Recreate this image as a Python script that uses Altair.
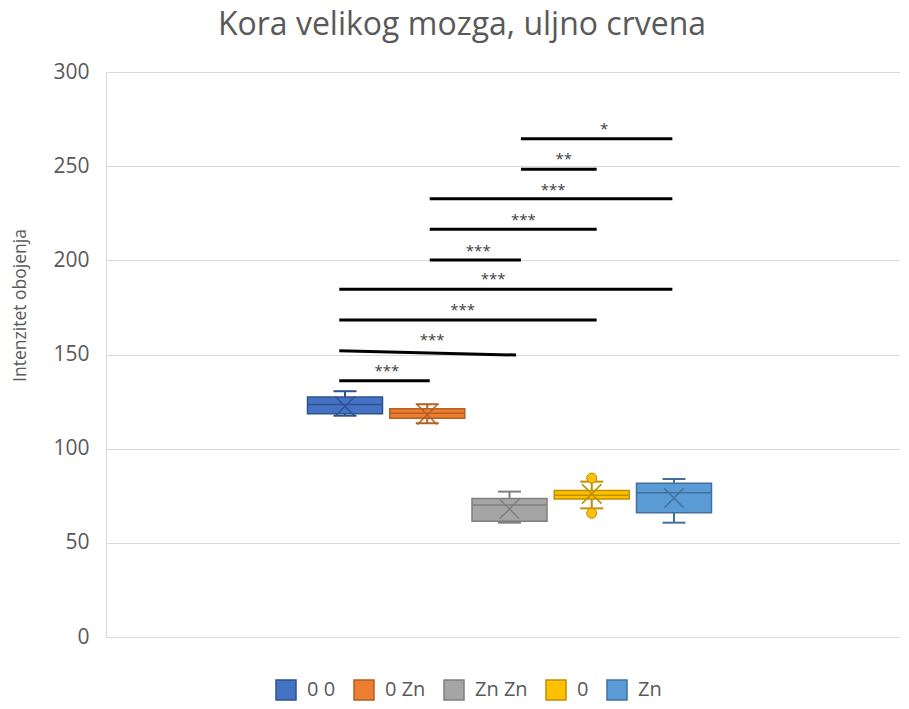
import altair as alt
import pandas as pd

# ---- data ----
groups = ["0 0", "0 Zn", "Zn Zn", "0", "Zn"]
fill_colors = ["#4472C4", "#ED7D31", "#A5A5A5", "#FFC000", "#5B9BD5"]
line_colors = ["#2F528F", "#B55F22", "#7F7F7F", "#BF9000", "#41719C"]

whisker_low = [117.5, 113.5, 60.7, 68.3, 60.7]
q1 = [118.5, 116.1, 61.5, 73.3, 66.0]
median = [123.5, 118.8, 70.1, 75.2, 76.6]
q3 = [127.5, 121.2, 73.6, 77.8, 81.6]
whisker_high = [130.5, 123.6, 77.2, 82.5, 83.9]
mean = [122.5, 118.0, 68.0, 76.0, 73.8]

outlier_group = ["0", "0"]
outlier_value = [84.4, 65.7]

# significance bars (x in group-position units, y in data units)
comp_x1 = [-0.07, -0.07, -0.07, -0.07, 1.03, 1.03, 1.03, 2.14, 2.14]
comp_x2 = [1.03, 2.08, 3.06, 3.98, 2.14, 3.06, 3.98, 3.06, 3.98]
comp_y1 = [136.1, 152.0, 168.3, 184.7, 200.2, 216.5, 232.7, 248.3, 264.6]
comp_y2 = [136.1, 149.7, 168.3, 184.7, 200.2, 216.5, 232.7, 248.3, 264.6]
comp_label = ["***", "***", "***", "***", "***", "***", "***", "**", "*"]
comp_label_x = [0.51, 1.06, 1.43, 1.80, 1.62, 2.17, 2.53, 2.66, 3.15]
comp_label_y = [142.7, 159.5, 175.4, 191.5, 206.7, 223.2, 239.1, 255.4, 271.4]

y_ticks = [0, 50, 100, 150, 200, 250, 300]

# ---- tables ----
HALF_BOX = 0.456
HALF_CAP = 0.14
pos = list(range(len(groups)))
box = pd.DataFrame({
    "grupa": groups, "pos": pos,
    "wlow": whisker_low, "q1": q1, "med": median, "q3": q3,
    "whigh": whisker_high, "mean": mean,
})
box["xl"] = box["pos"] - HALF_BOX
box["xr"] = box["pos"] + HALF_BOX
box["cl"] = box["pos"] - HALF_CAP
box["cr"] = box["pos"] + HALF_CAP

gpos = dict(zip(groups, pos))
outl = pd.DataFrame({"grupa": outlier_group, "v": outlier_value})
outl["pos"] = outl["grupa"].map(gpos)

comp = pd.DataFrame({"x1": comp_x1, "x2": comp_x2, "y1": comp_y1, "y2": comp_y2,
                     "lab": comp_label, "lx": comp_label_x, "ly": comp_label_y})

FONT = "Open Sans"
GREY = "#595959"

xs = alt.Scale(domain=[-2.906, 6.748], nice=False, zero=False)
ys = alt.Scale(domain=[0, 300], nice=False)
fill_scale = alt.Scale(domain=groups, range=fill_colors)
stroke_scale = alt.Scale(domain=groups, range=line_colors)

yaxis = alt.Axis(values=y_ticks, title="Intenzitet obojenja", grid=True, gridColor="#D9D9D9",
                 domain=True, domainColor="#D9D9D9", ticks=False, labelPadding=17,
                 labelFont=FONT, labelFontSize=21, labelColor=GREY,
                 titleFont=FONT, titleFontSize=17.5, titleColor=GREY, titleFontWeight="normal",
                 titleX=-81, titleY=233, titleAngle=-90, titleBaseline="alphabetic", titleAlign="center")

legend = alt.Legend(title=None, orient="none", legendX=169, legendY=607,
                    direction="horizontal", symbolType="square", symbolSize=400,
                    symbolStrokeWidth=1.5, labelFont=FONT, labelFontSize=20,
                    labelColor=GREY, columnPadding=15, labelOffset=10, padding=0)


def fill_enc():
    return alt.Fill("grupa:N", scale=fill_scale, sort=groups, legend=legend)


def stroke_enc():
    return alt.Stroke("grupa:N", scale=stroke_scale, sort=groups, legend=legend)


base = alt.Chart(box)

whisk = base.mark_rule(strokeWidth=2).encode(
    x=alt.X("pos:Q", scale=xs, axis=None),
    y=alt.Y("wlow:Q", scale=ys, axis=yaxis),
    y2="whigh:Q",
    stroke=stroke_enc(),
)
cap_hi = base.mark_rule(strokeWidth=2).encode(
    x=alt.X("cl:Q", scale=xs, axis=None), x2="cr:Q",
    y=alt.Y("whigh:Q", scale=ys),
    stroke=stroke_enc(),
)
cap_lo = base.mark_rule(strokeWidth=2).encode(
    x=alt.X("cl:Q", scale=xs, axis=None), x2="cr:Q",
    y=alt.Y("wlow:Q", scale=ys),
    stroke=stroke_enc(),
)
rect = base.mark_rect(strokeWidth=1.5).encode(
    x=alt.X("xl:Q", scale=xs, axis=None), x2="xr:Q",
    y=alt.Y("q1:Q", scale=ys), y2="q3:Q",
    fill=fill_enc(),
    stroke=stroke_enc(),
)
med = base.mark_rule(strokeWidth=1.5).encode(
    x=alt.X("xl:Q", scale=xs, axis=None), x2="xr:Q",
    y=alt.Y("med:Q", scale=ys),
    stroke=stroke_enc(),
)
mean_pt = base.mark_point(shape="M-1,-1L1,1M-1,1L1,-1", size=380, filled=False, strokeWidth=1.5,
                          opacity=1).encode(
    x=alt.X("pos:Q", scale=xs, axis=None),
    y=alt.Y("mean:Q", scale=ys),
    stroke=stroke_enc(),
)
out_pt = alt.Chart(outl).mark_point(shape="circle", size=100, filled=True, opacity=1,
                                    strokeWidth=1).encode(
    x=alt.X("pos:Q", scale=xs, axis=None),
    y=alt.Y("v:Q", scale=ys),
    fill=fill_enc(),
    stroke=stroke_enc(),
)
sig = alt.Chart(comp).mark_rule(strokeWidth=3, color="black").encode(
    x=alt.X("x1:Q", scale=xs, axis=None), x2="x2:Q",
    y=alt.Y("y1:Q", scale=ys), y2="y2:Q",
)
sig_txt = alt.Chart(comp).mark_text(font=FONT, fontSize=15, color="#404040",
                                    baseline="middle", align="center", dy=3).encode(
    x=alt.X("lx:Q", scale=xs, axis=None),
    y=alt.Y("ly:Q", scale=ys),
    text="lab:N",
)

chart = alt.layer(whisk, cap_hi, cap_lo, rect, med, mean_pt, out_pt, sig, sig_txt).properties(
    width=794, height=565,
    autosize=alt.AutoSizeParams(type="none"),
    padding={"left": 98, "top": 64, "right": 0, "bottom": 68},
    title=alt.TitleParams("Kora velikog mozga, uljno crvena", font=FONT, fontSize=32,
                          fontWeight="normal", color=GREY, anchor="middle", frame="group",
                          dx=-41, dy=6, baseline="alphabetic", offset=0),
).configure_view(stroke=None).configure(background="white")

chart.save("out.html", embed_options={"renderer": "svg", "actions": False})
